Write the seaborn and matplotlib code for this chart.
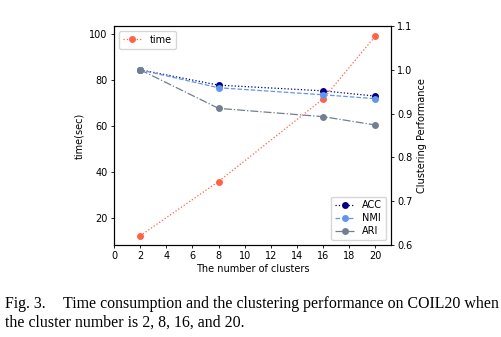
import matplotlib
matplotlib.use("Agg")
import matplotlib.pyplot as plt
import seaborn as sns
import pandas as pd

clusters = [2, 8, 16, 20]
time_sec = [12.4, 36.0, 71.9, 99.2]
acc = [1.0, 0.965, 0.952, 0.940]
nmi = [1.0, 0.959, 0.943, 0.934]
ari = [1.0, 0.912, 0.893, 0.874]

plt.rcParams['font.family'] = ['DejaVu Sans']
fs = 7

fig = plt.figure(figsize=(5.02, 3.37), dpi=100)
ax = fig.add_axes([114/502, 1-245/337, (391-114)/502, (245-26)/337])
ax2 = ax.twinx()

df = pd.DataFrame({"x": clusters, "time": time_sec, "ACC": acc, "NMI": nmi, "ARI": ari})

ms = 5
sns.lineplot(data=df, x="x", y="time", ax=ax, color="tomato", linestyle=":", marker="o",
             markersize=ms, markeredgewidth=0, label="time", lw=0.9)
sns.lineplot(data=df, x="x", y="ACC", ax=ax2, color="navy", linestyle=":", marker="o",
             markersize=ms, markeredgewidth=0, label="ACC", lw=0.9)
sns.lineplot(data=df, x="x", y="NMI", ax=ax2, color="cornflowerblue", linestyle="--", marker="o",
             markersize=ms, markeredgewidth=0, label="NMI", lw=0.9)
sns.lineplot(data=df, x="x", y="ARI", ax=ax2, color="slategray", linestyle="-.", marker="o",
             markersize=ms, markeredgewidth=0, label="ARI", lw=0.9)

ax.set_xlim(0, 21.2)
ax.set_ylim(8.4, 103.6)
ax.set_xticks(range(0, 21, 2))
ax.set_yticks([20, 40, 60, 80, 100])
ax2.set_ylim(0.6, 1.1)
ax2.set_yticks([0.6, 0.7, 0.8, 0.9, 1.0, 1.1])

ax.set_xlabel("The number of clusters", fontsize=fs, labelpad=2)
ax.set_ylabel("time(sec)", fontsize=fs, labelpad=4)
ax2.set_ylabel("Clustering Performance", fontsize=fs, labelpad=3)
for a in (ax, ax2):
    a.tick_params(labelsize=fs, length=2.5, width=0.6, pad=2)
    for s in a.spines.values():
        s.set_linewidth(0.8)

ax.legend(loc="upper left", fontsize=fs, handlelength=2, borderpad=0.4, labelspacing=0.3)
ax2.legend(loc="lower right", fontsize=fs, handlelength=2, borderpad=0.4, labelspacing=0.3)

cap = {"family": ["Liberation Serif"], "fontsize": 11.4}
fig.text(5/502, 1-308/337, "Fig. 3.", **cap)
fig.text(63/502, 1-308/337, "Time consumption and the clustering performance on COIL20 when", **cap)
fig.text(5/502, 1-327/337, "the cluster number is 2, 8, 16, and 20.", **cap)

fig.savefig("out.png", dpi=100)
